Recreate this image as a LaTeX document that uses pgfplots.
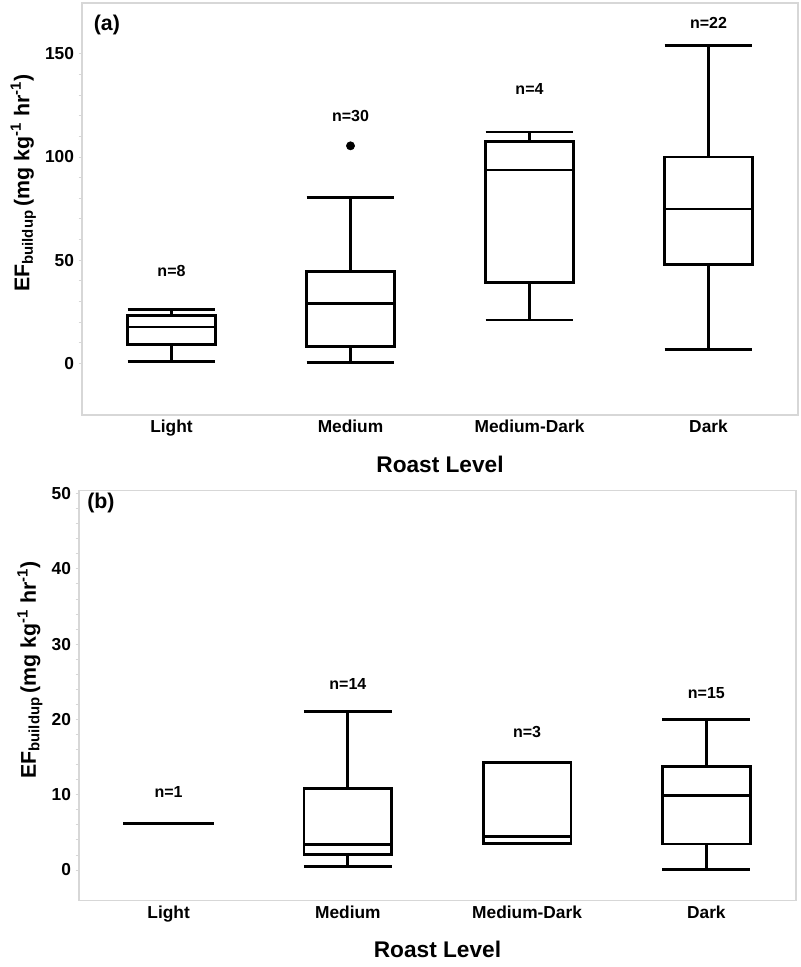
\documentclass[border=0pt]{standalone}
\usepackage{fontspec}
\setmainfont{Liberation Sans}
\usepackage{pgfplots}
\pgfplotsset{compat=1.18}
\usepgfplotslibrary{statistics}
\definecolor{framegray}{RGB}{215,215,215}
\pgfplotsset{
  myax/.style={
    scale only axis,
    axis line style={draw=framegray, line width=0.8pt},
    xmin=-0.5, xmax=3.5,
    xtick={0,1,2,3},
    xticklabels={Light,Medium,Medium-Dark,Dark},
    major x tick style={draw=none},
    ytick style={draw=framegray, line width=0.6pt},
    minor y tick num=4,
    tick align=outside,
    major tick length=2.5pt, minor tick length=2.5pt,
    ytick pos=left,
    /pgf/number format/assume math mode=true,
    tick label style={font=\bfseries\fontsize{13}{15}\selectfont},
    xticklabel style={yshift=2.5pt},
    xlabel={Roast Level},
    xlabel style={font=\bfseries\fontsize{17}{20}\selectfont, yshift=-8pt},
    ylabel={EF\textsubscript{buildup}\,(mg kg\textsuperscript{-1} hr\textsuperscript{-1})},
    ylabel style={font=\bfseries\fontsize{16}{19}\selectfont, at={(ticklabel cs:0.563)}},
    clip=false,
    boxplot/draw direction=y, boxplot/box extend=0.49, boxplot/whisker extend=0.49,
  },
  bp/.style={draw=black, line width=2.1pt, solid,
    boxplot/every box/.style={line width=2.1pt},
    boxplot/every median/.style={line width=2.1pt},
    boxplot/every whisker/.style={line width=2.1pt}},
}
\begin{document}
\begin{tikzpicture}
\useasboundingbox (0,0) rectangle (600pt,725.25pt);
% ---------- (a)
\begin{axis}[myax, at={(61.5pt,723pt)}, anchor=north west,
  width=537pt, height=309pt,
  ymin=-25, ymax=174.6, ytick={0,50,100,150}]
\addplot[bp, boxplot prepared={draw position=0, lower whisker=1.1, lower quartile=9.2, median=17.6, upper quartile=23.3, upper whisker=26.2}] coordinates {};
\addplot[bp, boxplot prepared={draw position=1, lower whisker=0.6, lower quartile=8.0, median=29.1, upper quartile=44.7, upper whisker=80.2}] coordinates {};
\addplot[bp, boxplot prepared={draw position=2, lower whisker=21.0, lower quartile=39.1, median=93.7, upper quartile=107.4, upper whisker=112.1}] coordinates {};
\addplot[bp, boxplot prepared={draw position=3, lower whisker=6.9, lower quartile=48.0, median=74.8, upper quartile=100.0, upper whisker=154.1}] coordinates {};
\addplot[only marks, mark=*, mark size=3.1pt, black] coordinates {(1,105.4)};
\node[font=\bfseries\fontsize{12}{14}\selectfont] at (axis cs:0,45) {n=8};
\node[font=\bfseries\fontsize{12}{14}\selectfont] at (axis cs:1,119.8) {n=30};
\node[font=\bfseries\fontsize{12}{14}\selectfont] at (axis cs:2,133) {n=4};
\node[font=\bfseries\fontsize{12}{14}\selectfont] at (axis cs:3,165) {n=22};
\node[font=\bfseries\fontsize{16}{19}\selectfont, anchor=west] at (axis cs:-0.46,164) {(a)};
\end{axis}
% ---------- (b)
\begin{axis}[myax, at={(59.25pt,357.2pt)}, anchor=north west,
  width=537.75pt, height=307.5pt,
  ymin=-4.08, ymax=50.37, ytick={0,10,20,30,40,50}]
\addplot[bp, boxplot prepared={draw position=0, lower whisker=6.2, lower quartile=6.19, median=6.2, upper quartile=6.21, upper whisker=6.2}] coordinates {};
\addplot[bp, boxplot prepared={draw position=1, lower whisker=0.45, lower quartile=2.1, median=3.4, upper quartile=10.8, upper whisker=21.1}] coordinates {};
\addplot[bp, boxplot prepared={draw position=2, lower whisker=3.55, lower quartile=3.55, median=4.5, upper quartile=14.25, upper whisker=14.25}] coordinates {};
\addplot[bp, boxplot prepared={draw position=3, lower whisker=0.1, lower quartile=3.45, median=9.9, upper quartile=13.7, upper whisker=20.0}] coordinates {};
\node[font=\bfseries\fontsize{12}{14}\selectfont] at (axis cs:0,10.4) {n=1};
\node[font=\bfseries\fontsize{12}{14}\selectfont] at (axis cs:1,24.7) {n=14};
\node[font=\bfseries\fontsize{12}{14}\selectfont] at (axis cs:2,18.3) {n=3};
\node[font=\bfseries\fontsize{12}{14}\selectfont] at (axis cs:3,23.5) {n=15};
\node[font=\bfseries\fontsize{16}{19}\selectfont, anchor=west] at (axis cs:-0.48,48.7) {(b)};
\end{axis}
\end{tikzpicture}
\end{document}
